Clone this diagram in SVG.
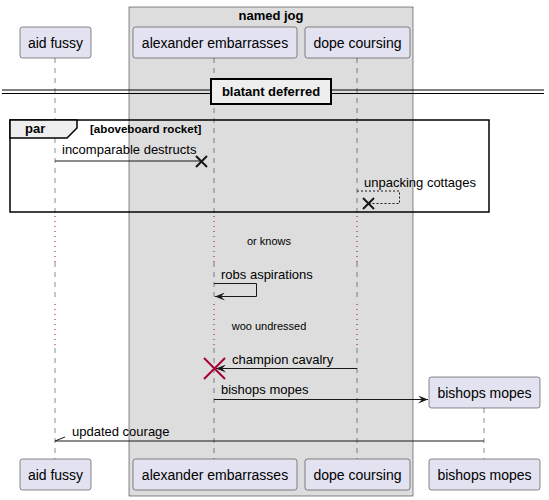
<svg xmlns="http://www.w3.org/2000/svg" width="549" height="500" viewBox="0 0 549 500">
<defs>
<style>
.part rect{fill:#E2E2F0;stroke:#181818;stroke-width:0.5}
.pt{font-family:"Liberation Sans",Arial,sans-serif;font-size:14px;fill:#000;text-anchor:middle}
.msg{font-family:"Liberation Sans",Arial,sans-serif;font-size:13px;fill:#000}
.small{font-family:"Liberation Sans",Arial,sans-serif;font-size:11px;fill:#000}
.bold13{font-family:"Liberation Sans",Arial,sans-serif;font-size:13px;font-weight:bold;fill:#000}
.bold11{font-family:"Liberation Sans",Arial,sans-serif;font-size:11.6px;font-weight:bold;fill:#000}
.life{stroke:#181818;stroke-width:0.5;stroke-dasharray:5,5;fill:none}
.delay{stroke:#A80036;stroke-width:1;stroke-dasharray:1,4;fill:none}
.ln{stroke:#181818;stroke-width:1;fill:none}
</style>
<marker id="arr" viewBox="0 0 10 8" refX="10" refY="4" markerWidth="10" markerHeight="8" markerUnits="userSpaceOnUse" orient="auto">
<path d="M0,0 L10,4 L0,8 L4,4 Z" fill="#181818"/>
</marker>
</defs>
<rect width="549" height="500" fill="#FFFFFF"/>
<g id="box-named-jog">
<rect x="129" y="7" width="284" height="489" fill="#DDDDDD" stroke="#181818" stroke-width="0.5"/>
<text class="bold13" x="271" y="20" text-anchor="middle">named jog</text>
</g>
<g id="lifelines">
<line class="life" x1="55" y1="58" x2="55" y2="214"/>
<line class="delay" x1="55" y1="216" x2="55" y2="262"/>
<line class="life" x1="55" y1="262" x2="55" y2="302"/>
<line class="delay" x1="55" y1="304" x2="55" y2="348"/>
<line class="life" x1="55" y1="348" x2="55" y2="459"/>
<line class="life" x1="214" y1="58" x2="214" y2="214"/>
<line class="delay" x1="214" y1="216" x2="214" y2="262"/>
<line class="life" x1="214" y1="262" x2="214" y2="302"/>
<line class="delay" x1="214" y1="304" x2="214" y2="348"/>
<line class="life" x1="214" y1="348" x2="214" y2="459"/>
<line class="life" x1="357" y1="58" x2="357" y2="214"/>
<line class="delay" x1="357" y1="216" x2="357" y2="262"/>
<line class="life" x1="357" y1="262" x2="357" y2="302"/>
<line class="delay" x1="357" y1="304" x2="357" y2="348"/>
<line class="life" x1="357" y1="348" x2="357" y2="459"/>
<line class="life" x1="484" y1="408" x2="484" y2="459"/>
</g>
<g id="p-aid-fussy" class="part">
<rect x="20" y="27" width="71" height="31" rx="2.5"/>
<text class="pt" x="55.5" y="47.5">aid fussy</text>
<rect x="20" y="459" width="71" height="31" rx="2.5"/>
<text class="pt" x="55.5" y="479.5">aid fussy</text>
</g>
<g id="p-alexander" class="part">
<rect x="133" y="27" width="164" height="31" rx="2.5"/>
<text class="pt" x="215" y="47.5">alexander embarrasses</text>
<rect x="133" y="459" width="164" height="31" rx="2.5"/>
<text class="pt" x="215" y="479.5">alexander embarrasses</text>
</g>
<g id="p-dope" class="part">
<rect x="305" y="27" width="105" height="31" rx="2.5"/>
<text class="pt" x="357.5" y="47.5">dope coursing</text>
<rect x="305" y="459" width="105" height="31" rx="2.5"/>
<text class="pt" x="357.5" y="479.5">dope coursing</text>
</g>
<g id="p-bishops" class="part">
<rect x="429" y="377" width="111" height="31" rx="2.5"/>
<text class="pt" x="484.5" y="397.5">bishops mopes</text>
<rect x="429" y="459" width="111" height="31" rx="2.5"/>
<text class="pt" x="484.5" y="479.5">bishops mopes</text>
</g>
<g id="divider">
<line x1="2" y1="90" x2="544" y2="90" stroke="#000" stroke-width="1"/>
<line x1="2" y1="93.5" x2="544" y2="93.5" stroke="#000" stroke-width="1"/>
<rect x="211" y="79" width="120" height="25" fill="#EEEEEE" stroke="#000" stroke-width="2"/>
<text class="bold13" x="271" y="96" text-anchor="middle">blatant deferred</text>
</g>
<g id="par-frame">
<rect x="10" y="120" width="479" height="92" fill="none" stroke="#000" stroke-width="1.5"/>
<path d="M10,120 L77,120 L77,128 L67,138 L10,138 Z" fill="#EEEEEE" stroke="#000" stroke-width="1.5"/>
<text class="bold13" x="25" y="133">par</text>
<text class="bold11" x="90" y="133">[aboveboard rocket]</text>
</g>
<g id="connectors">
<line class="ln" x1="55" y1="161" x2="201" y2="161"/>
<path d="M196,156 L207,167 M196,167 L207,156" stroke="#181818" stroke-width="2" fill="none"/>
<text class="msg" x="62" y="154">incomparable destructs</text>
<path d="M357,191 L399.5,191 L399.5,203.5 L369,203.5" stroke="#181818" stroke-width="1" stroke-dasharray="2,2" fill="none"/>
<path d="M363,198 L374,209 M363,209 L374,198" stroke="#181818" stroke-width="2" fill="none"/>
<text class="msg" x="364" y="187">unpacking cottages</text>
<text class="small" x="269" y="245" text-anchor="middle">or knows</text>
<path d="M214,283.5 L256.5,283.5 L256.5,296.5 L215,296.5" class="ln" marker-end="url(#arr)"/>
<text class="msg" x="221" y="279">robs aspirations</text>
<text class="small" x="269" y="330" text-anchor="middle">woo undressed</text>
<line class="ln" x1="357" y1="368.5" x2="216" y2="368.5" marker-end="url(#arr)"/>
<path d="M204,358 L225,379 M204,379 L225,358" stroke="#A80036" stroke-width="2" fill="none"/>
<text class="msg" x="232" y="364">champion cavalry</text>
<line class="ln" x1="214" y1="399.5" x2="428" y2="399.5" marker-end="url(#arr)"/>
<text class="msg" x="221" y="394">bishops mopes</text>
<line class="ln" x1="484" y1="441" x2="55" y2="441"/>
<line class="ln" x1="55" y1="441" x2="65" y2="437"/>
<text class="msg" x="72" y="436">updated courage</text>
</g>
</svg>
